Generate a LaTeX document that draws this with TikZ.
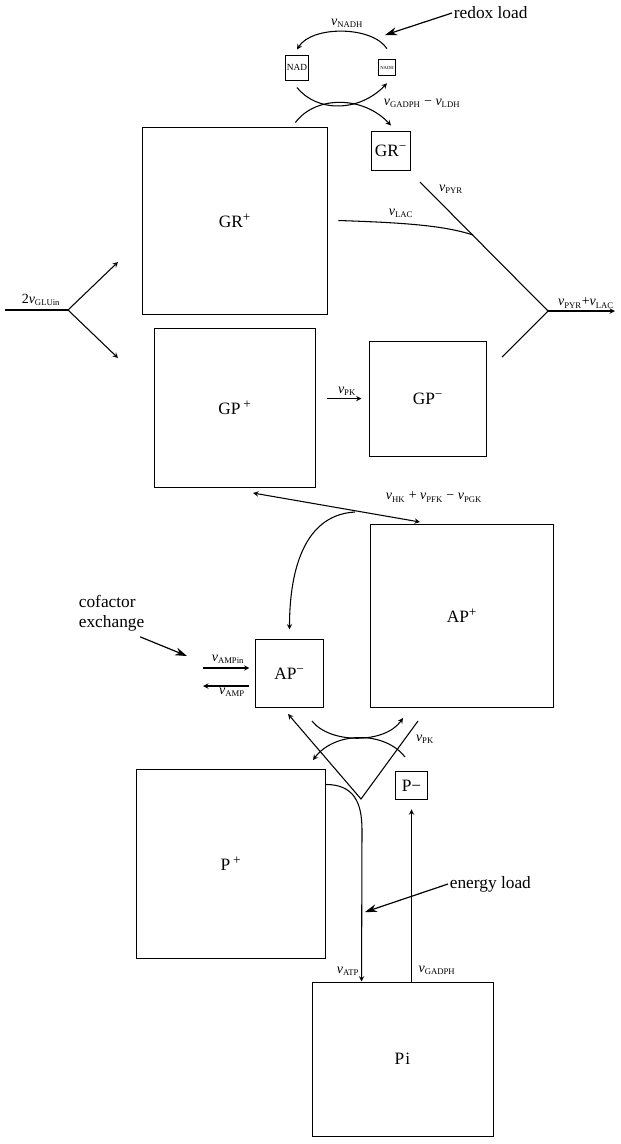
\documentclass[tikz,border=0pt]{standalone}
\usepackage{fontspec}
\setmainfont{Liberation Serif}
\usetikzlibrary{calc,arrows.meta}
\newcommand{\flux}[1]{\textit{v}\textsubscript{\fontsize{6.5}{7}\selectfont #1}}
\newcommand{\charge}[1]{\textsuperscript{\fontsize{10}{10}\selectfont #1}}

\begin{document}
\begin{tikzpicture}[>=stealth, x=0.2636cm, y=-0.2636cm, line width=0.8pt,
  % pools: plain square boxes
  pool/.style={draw, line width=0.7pt, inner sep=0pt, font=\fontsize{13}{15}\selectfont},
  % rate labels
  rate/.style={font=\fontsize{10.5}{12}\selectfont, inner sep=1pt},
  % load annotations with heavy arrow
  note/.style={font=\fontsize{13}{15}\selectfont, align=left, inner sep=1pt},
  load/.style={-{Stealth[length=9pt,width=6pt]}, line width=0.9pt}
]
  \useasboundingbox (0,0) rectangle (62.1,114.4);

  % Glycolysis pools
  \node[pool, minimum width=4.90cm, minimum height=4.93cm] (GRp) at (23.5,22.05) {GR\charge{+}};
  \node[pool, minimum width=1.05cm, minimum height=1.03cm] (GRm) at (39.1,15.05) {GR\charge{−}};
  \node[pool, minimum width=4.22cm, minimum height=4.19cm] (GPp) at (23.5,40.75) {GP\,\charge{+}};
  \node[pool, minimum width=3.06cm, minimum height=3.03cm] (GPm) at (42.8,39.85) {GP\charge{−}};

  % Redox cofactors
  \node[pool, minimum width=0.63cm, minimum height=0.66cm, font=\fontsize{7}{8}\selectfont] (NAD) at (29.7,6.75) {NAD};
  \node[pool, minimum width=0.47cm, minimum height=0.44cm, font=\fontsize{3.5}{4}\selectfont] (NADH) at (38.7,6.75) {NADH};

  % Adenylate and phosphate pools
  \node[pool, minimum width=4.80cm, minimum height=4.80cm] (APp) at (46.2,61.6) {AP\charge{+}};
  \node[pool, minimum width=1.77cm, minimum height=1.77cm] (APm) at (28.95,67.35) {AP\charge{−}};
  \node[pool, minimum width=0.82cm, minimum height=0.76cm] (Pm) at (41.15,78.55) {P−};
  \node[pool, minimum width=4.96cm, minimum height=4.96cm] (Pp) at (23.1,86.4) {P\,\charge{+}};
  \node[pool, minimum width=4.77cm, minimum height=4.06cm] (Pi) at (40.25,105.9) {P\kern0.8pt i};

  % Glucose uptake, split in two
  \coordinate (gluin) at (0.5,31.0);
  \coordinate (glusplit) at (6.8,31.0);
  \coordinate (gluR) at (11.8,26.2);
  \coordinate (gluP) at (11.8,35.8);
  \draw (gluin) -- (glusplit);
  \draw[->] (glusplit) -- (gluR);
  \draw[->] (glusplit) -- (gluP);
  \node[rate] (glulabel) at (4.1,30.0) {2\flux{GLUin}};

  % Pyruvate and lactate outflow
  \coordinate (pyrtop) at (42.0,18.2);
  \coordinate (pyrmeet) at (47.3,23.5);
  \coordinate (outsplit) at (54.8,31.1);
  \coordinate (outlow) at (50.2,35.7);
  \coordinate (outend) at (61.5,31.1);
  \draw (pyrtop) -- (outsplit);
  \draw (outlow) -- (outsplit);
  \draw[->] (outsplit) -- (outend);
  \draw ($(GRp.east)+(1.0,0)$) .. controls +(6,0.2) and +(-3,-1.0) .. (pyrmeet);
  \node[rate] (lac) at (40.1,21.3) {\flux{LAC}};
  \node[rate] (pyr) at (45.1,18.9) {\flux{PYR}};
  \node[rate] (out) at (58.6,30.3) {\flux{PYR}+\flux{LAC}};

  % Redox cycle
  \draw[->] ([yshift=7.5pt]NADH.north) .. controls +(-1.5,-2.3) and +(1.5,-2.4) .. ([yshift=3.75pt]NAD.north);
  \draw[->] ([yshift=-5.25pt]NAD.south) .. controls +(2.0,2.5) and +(-2.8,2.9) .. ([yshift=-5.25pt]NADH.south);
  \draw[->] ($(GRp.north east)+(-3.3,-0.4)$) .. controls +(2.0,-2.7) and +(-2.8,-3.0) .. ([yshift=3.75pt]GRm.north);
  \node[rate] (nadh) at (34.7,2.3) {\flux{NADH}};
  \node[rate, anchor=west] (gadphldh) at (38.2,10.3) {\flux{GADPH} − \flux{LDH}};
  \node[note, anchor=west] (redox) at (45.2,1.3) {redox load};
  \coordinate (redoxtip) at (38.5,3.5);
  \draw[load] (redox.west) -- (redoxtip);

  % Pyruvate kinase
  \draw[->, shorten <=8.25pt, shorten >=6pt] (GPp.east |- GPm) -- (GPm.west);
  \node[rate] (pkup) at (34.7,39.1) {\flux{PK}};

  % HK + PFK - PGK
  \coordinate (hkL) at (25.3,49.3);
  \coordinate (hkR) at (42.0,52.2);
  \coordinate (hkmid) at (35.5,51.2);
  \draw[<->] (hkL) -- (hkR);
  \draw[->] (hkmid) .. controls +(-5.5,0.3) and +(0,-5.0) .. ([yshift=7.5pt]APm.north);
  \node[rate] (hk) at (43.4,49.7) {\flux{HK} + \flux{PFK} − \flux{PGK}};

  % Cofactor exchange
  \node[note, anchor=west] (cofactor) at (7.7,61.3) {cofactor\\exchange};
  \coordinate (cofactortip) at (18.7,65.6);
  \draw[load] ($(cofactor.south east)+(-0.6,0.4)$) -- (cofactortip);
  \coordinate (ampinL) at (20.3,66.8);
  \coordinate (ampL) at (20.3,68.6);
  \draw[->, shorten >=4.5pt] (ampinL) -- (ampinL -| APm.west);
  \draw[->, shorten <=4.5pt] (ampL -| APm.west) -- (ampL);
  \node[rate] (ampin) at (22.8,65.9) {\flux{AMPin}};
  \node[rate] (amp) at (23.2,69.2) {\flux{AMP}};

  % Lower pyruvate kinase crossing
  \coordinate (cA) at (31.2,72.1);
  \coordinate (cAtip) at (40.3,71.8);
  \coordinate (cB) at (40.5,75.7);
  \coordinate (cBtip) at (31.3,76.0);
  \draw[->] (cA) .. controls +(1.8,2.3) and +(-1.8,2.6) .. (cAtip);
  \draw[->] (cB) .. controls +(-2.0,-2.6) and +(2.2,-2.9) .. (cBtip);
  \coordinate (vL) at (28.8,71.4);
  \coordinate (vA) at (36.1,79.9);
  \coordinate (vR) at (41.8,72.1);
  \draw[<-] (vL) -- (vA) -- (vR);
  \node[rate] (pkdown) at (42.5,73.9) {\flux{PK}};

  % ATP use and phosphate return
  \coordinate (atpbend) at (36.2,83.0);
  \draw[->] ($(Pp.north east)+(0,1.5)$) .. controls +(2.8,0) and +(0,-2.8) .. (atpbend) -- ($(Pi.north west)+(5.0,0)$);
  \draw[->] (Pm.south |- Pi.north) -- ([yshift=-6.75pt]Pm.south);
  \node[rate] (atp) at (34.8,97.1) {\flux{ATP}};
  \node[rate] (gadph) at (43.7,97.0) {\flux{GADPH}};
  \node[note, anchor=west] (energy) at (44.8,88.4) {energy load};
  \coordinate (energytip) at (36.5,91.2);
  \draw[load] (energy.west) -- (energytip);

\end{tikzpicture}
\end{document}
